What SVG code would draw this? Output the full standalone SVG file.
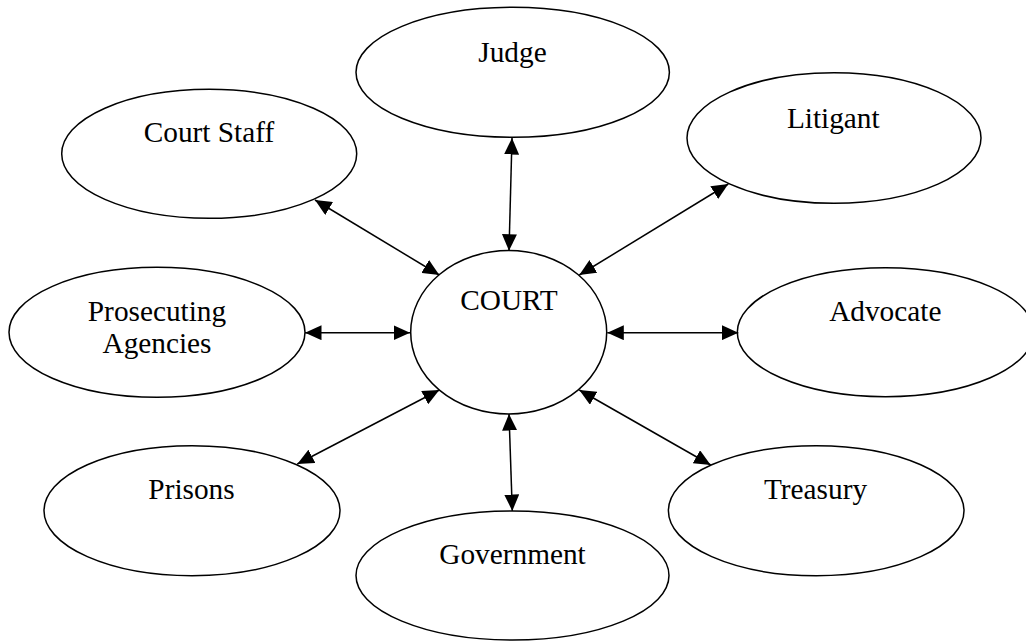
<svg xmlns="http://www.w3.org/2000/svg" width="1026" height="641" viewBox="0 0 1026 641">
<style>
.n{fill:#fff;stroke:#000;stroke-width:1.5}
.t{font-family:"Liberation Serif","Times New Roman",serif;font-size:29.3px;fill:#000;text-anchor:middle}
.c line{stroke:#000;stroke-width:1.5;marker-start:url(#ah);marker-end:url(#ah)}
</style>
<defs>
<marker id="ah" markerUnits="userSpaceOnUse" markerWidth="17" markerHeight="15" refX="16.5" refY="7.5" orient="auto-start-reverse" viewBox="0 0 17 15">
<path d="M0,0 L16.5,7.5 L0,15 z" fill="#000"/>
</marker>
</defs>
<rect width="1026" height="641" fill="#fff"/>
<g id="judge"><ellipse class="n" cx="512.7" cy="72.3" rx="156.7" ry="65"/><text class="t" x="512.5" y="61.7">Judge</text></g>
<g id="court-staff"><ellipse class="n" cx="209.2" cy="153.8" rx="147.5" ry="64.5"/><text class="t" x="209" y="142.3">Court Staff</text></g>
<g id="litigant"><ellipse class="n" cx="834" cy="138" rx="147" ry="65.3"/><text class="t" x="833.3" y="127.7">Litigant</text></g>
<g id="prosecuting-agencies"><ellipse class="n" cx="157" cy="332.3" rx="148" ry="65"/><text class="t" x="157" y="320.7">Prosecuting</text><text class="t" x="157" y="353.3">Agencies</text></g>
<g id="advocate"><ellipse class="n" cx="885.5" cy="332.2" rx="148.2" ry="64.5"/><text class="t" x="885.3" y="321">Advocate</text></g>
<g id="prisons"><ellipse class="n" cx="192" cy="510.7" rx="148" ry="65"/><text class="t" x="191.5" y="499.3">Prisons</text></g>
<g id="treasury"><ellipse class="n" cx="816.2" cy="510.7" rx="147.8" ry="65"/><text class="t" x="815.5" y="499.3">Treasury</text></g>
<g id="government"><ellipse class="n" cx="512.5" cy="575.5" rx="156.5" ry="64.5"/><text class="t" x="512.5" y="564.3">Government</text></g>
<g id="court"><ellipse class="n" cx="508.7" cy="332.3" rx="98" ry="81.7"/><text class="t" x="509" y="310">COURT</text></g>
<g id="connectors" class="c">
<line x1="315" y1="200" x2="439.3" y2="275"/>
<line x1="512" y1="138" x2="509" y2="250.7"/>
<line x1="728.3" y1="184" x2="579.3" y2="275"/>
<line x1="305" y1="332.7" x2="410" y2="332.7"/>
<line x1="738.3" y1="332.7" x2="607.3" y2="332.7"/>
<line x1="297.3" y1="464" x2="439.3" y2="390"/>
<line x1="710.7" y1="465" x2="579.3" y2="390"/>
<line x1="512.3" y1="511" x2="509" y2="414"/>
</g>
</svg>
